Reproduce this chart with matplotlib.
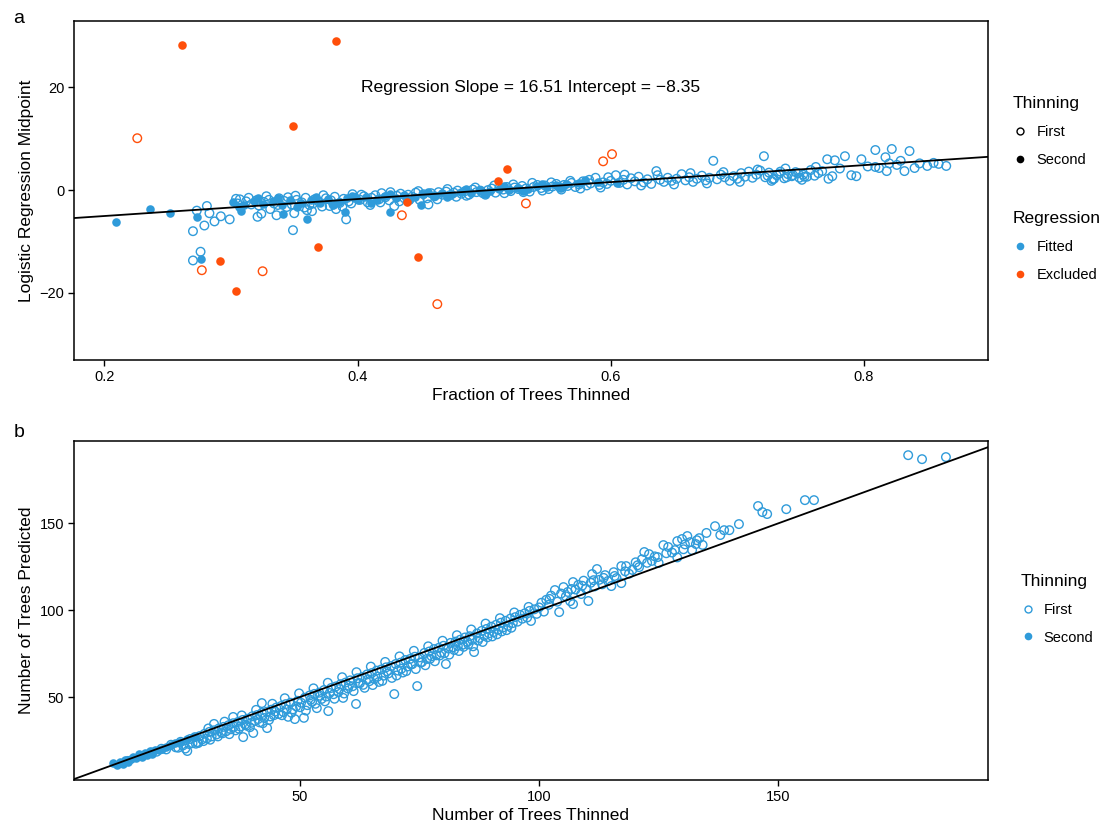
import matplotlib
matplotlib.use("Agg")
import matplotlib.pyplot as plt
from matplotlib.lines import Line2D

plt.rcParams['font.family'] = ['Liberation Sans', 'DejaVu Sans']

BLUE = '#2F9BDA'
ORANGE = '#FF4F0A'

# ---- panel a: fraction thinned vs logistic midpoint ----
slope = 16.51
intercept = -8.35

# fitted, first thinning (open blue)
fit_first_x = [0.270, 0.270, 0.276, 0.279, 0.287, 0.292, 0.299, 0.281, 0.283, 0.273, 0.304, 0.307, 0.312, 0.316, 0.320,
               0.321, 0.324, 0.331, 0.336, 0.350, 0.360, 0.364, 0.349, 0.391, 0.378, 0.383, 0.326, 0.330, 0.334, 0.338,
               0.342, 0.345, 0.348, 0.352, 0.356, 0.359, 0.362, 0.366, 0.369, 0.372, 0.375, 0.379, 0.382, 0.386, 0.389,
               0.393, 0.396, 0.398,
               0.402, 0.405, 0.408, 0.411, 0.414, 0.417, 0.419, 0.422, 0.425, 0.429, 0.431, 0.434, 0.437, 0.440, 0.443,
               0.446, 0.449, 0.452, 0.456, 0.458, 0.461, 0.464, 0.467, 0.470, 0.473, 0.476, 0.479, 0.482, 0.485, 0.488,
               0.491, 0.494, 0.497, 0.499,
               0.503, 0.506, 0.509, 0.512, 0.515, 0.518, 0.521, 0.524, 0.527, 0.530, 0.533, 0.536, 0.539, 0.542, 0.545,
               0.548, 0.551, 0.554, 0.557, 0.560, 0.563, 0.566, 0.569, 0.572, 0.575, 0.578, 0.581, 0.584, 0.588, 0.591,
               0.594, 0.597, 0.600,
               0.604, 0.607, 0.610, 0.613, 0.616, 0.619, 0.622, 0.626, 0.629, 0.632, 0.636, 0.639, 0.642, 0.645, 0.648,
               0.652, 0.656, 0.659, 0.662, 0.665, 0.668, 0.672, 0.675, 0.678, 0.681, 0.684, 0.687, 0.690, 0.694, 0.697,
               0.700, 0.703, 0.706, 0.709, 0.712, 0.715, 0.718, 0.721, 0.722, 0.725, 0.728, 0.731, 0.734, 0.737, 0.740,
               0.743, 0.746, 0.749, 0.752, 0.755, 0.758, 0.761, 0.764, 0.767, 0.771, 0.775, 0.777, 0.781, 0.785, 0.790,
               0.794, 0.798, 0.724, 0.729, 0.733, 0.739, 0.744, 0.748, 0.753,
               0.803, 0.809, 0.809, 0.812, 0.817, 0.818, 0.820, 0.822, 0.826, 0.829, 0.832, 0.836, 0.840, 0.844, 0.850,
               0.855, 0.859, 0.865,
               0.305, 0.314, 0.322, 0.328, 0.337, 0.344, 0.351, 0.358, 0.365, 0.373, 0.381, 0.388, 0.395, 0.403, 0.410,
               0.418, 0.426, 0.433, 0.441, 0.448, 0.455, 0.463, 0.471, 0.478, 0.486, 0.493, 0.501, 0.508, 0.516, 0.523,
               0.531, 0.538, 0.546, 0.553, 0.561, 0.568, 0.576, 0.583, 0.592, 0.598,
               0.611, 0.624, 0.637, 0.650, 0.663, 0.676, 0.689, 0.702, 0.716, 0.727, 0.738, 0.751, 0.762, 0.772]
fit_first_y = [-8.0, -13.7, -12.0, -6.9, -6.1, -5.1, -5.7, -3.1, -4.5, -4.0, -1.7, -1.8, -2.2, -2.8, -2.0,
               -5.2, -4.6, -3.7, -4.9, -4.5, -3.9, -4.1, -7.8, -5.7, -3.1, -3.7, -2.3, -1.9, -2.6, -1.6,
               -2.1, -1.4, -2.8, -1.9, -2.4, -1.5, -2.9, -1.8, -2.2, -3.2, -1.6, -2.0, -1.3, -2.5, -1.7,
               -2.2, -0.8, -1.5,
               -1.9, -1.2, -2.4, -1.5, -1.0, -1.8, -0.6, -1.4, -2.0, -3.1, -1.1, -0.7, -1.6, -0.9, -1.3,
               -0.5, -1.9, -0.8, -2.8, -0.6, -1.2, -0.4, -0.9, -0.3, -1.0, -0.5, -0.1, -0.7, -0.2, -0.9,
               0.1, -0.4, -0.1, -0.6,
               0.0, 0.3, -0.5, 0.4, 0.1, 0.6, -0.2, 0.5, 0.2, 0.8, 0.3, -0.3, 0.6, 1.0, 0.4,
               0.9, 0.2, 0.7, 1.2, 0.5, 1.0, 0.8, 1.4, 0.6, 1.1, 1.7, 0.9, 1.3, 2.4, 1.0,
               1.5, 1.2, 1.8,
               2.9, 1.4, 2.0, 1.1, 2.3, 1.7, 2.6, 1.5, 2.1, 1.2, 3.7, 2.0, 1.6, 2.4, 1.8,
               2.2, 3.1, 1.9, 2.5, 1.6, 2.2, 2.8, 1.9, 2.4, 5.7, 2.1, 3.0, 2.5, 1.8, 2.7,
               2.2, 3.3, 2.6, 3.6, 2.4, 3.0, 3.8, 6.6, 2.5, 3.4, 2.1, 2.9, 3.6, 2.3, 3.1,
               2.7, 3.5, 2.4, 3.0, 2.6, 3.9, 2.8, 3.3, 3.7, 6.0, 2.7, 5.8, 4.2, 6.6, 2.9,
               2.7, 6.0, 2.8, 2.2, 3.2, 2.5, 2.9, 3.3, 2.6,
               4.6, 7.8, 4.5, 4.3, 6.4, 3.7, 5.2, 8.0, 4.9, 5.7, 3.7, 7.6, 4.3, 5.2, 4.7,
               5.3, 5.1, 4.7,
               -2.6, -1.5, -3.0, -1.2, -2.9, -3.3, -1.1, -3.4, -2.6, -1.0, -2.8, -3.2, -2.6, -0.9, -2.9,
               -2.4, -0.4, -2.2, -1.9, -0.2, -1.6, -1.8, 0.2, -1.3, -1.1, 0.5, -0.9, 0.9, -0.6, 1.1,
               -0.4, 1.4, -0.1, 1.5, 0.1, 1.8, 0.3, 2.0, 0.5, 2.5,
               3.0, 0.9, 2.9, 1.1, 3.3, 1.3, 3.5, 1.6, 4.0, 1.8, 4.2, 2.0, 4.5, 2.2]

# fitted, second thinning (filled blue)
fit_second_x = [0.209, 0.236, 0.252, 0.273, 0.276, 0.308, 0.341, 0.360, 0.390, 0.426, 0.450,
                0.302, 0.310, 0.318, 0.325, 0.333, 0.340, 0.347, 0.355, 0.363, 0.370, 0.377, 0.385, 0.392,
                0.400, 0.407, 0.415, 0.422, 0.430, 0.437, 0.445, 0.452, 0.460, 0.467, 0.475, 0.482, 0.490,
                0.497, 0.505, 0.512, 0.520, 0.527, 0.535, 0.542, 0.550, 0.557, 0.565, 0.575, 0.590,
                0.306, 0.321, 0.337, 0.352, 0.367, 0.381, 0.396, 0.411, 0.426, 0.441, 0.456, 0.471, 0.486,
                0.501, 0.516, 0.531, 0.546, 0.561, 0.580, 0.605]
fit_second_y = [-6.3, -3.7, -4.5, -5.2, -13.5, -4.1, -4.7, -5.6, -4.3, -4.2, -3.0,
                -2.4, -2.9, -2.1, -2.7, -2.2, -3.0, -2.0, -2.6, -1.9, -2.5, -1.8, -2.3, -1.6,
                -2.0, -1.4, -1.9, -1.2, -1.6, -1.0, -1.4, -0.8, -1.1, -0.6, -0.8, -0.3, -0.5,
                0.0, -0.2, 0.3, 0.1, 0.5, 0.3, 0.7, 0.6, 0.9, 1.1, 1.3, 1.6,
                -3.3, -1.6, -1.5, -3.2, -1.3, -2.9, -1.1, -2.6, -0.8, -2.0, -0.3, -1.4, 0.2,
                -0.7, 0.8, -0.1, 1.2, 0.4, 1.9, 1.4]

# excluded from regression
excl_first_x = [0.226, 0.277, 0.325, 0.435, 0.463, 0.533, 0.594, 0.601]
excl_first_y = [10.1, -15.6, -15.8, -4.9, -22.2, -2.6, 5.6, 7.0]
excl_second_x = [0.261, 0.383, 0.349, 0.511, 0.518, 0.439, 0.369, 0.448, 0.291, 0.304]
excl_second_y = [28.3, 29.1, 12.5, 1.7, 4.1, -2.3, -11.1, -13.1, -13.9, -19.7]

# ---- panel b: thinned vs predicted ----
b_second_x = [10.9, 11.6, 12.3, 12.9, 13.4, 14.0, 14.6, 15.1, 15.7, 16.3, 16.9, 17.5, 18.0, 18.6, 19.1,
              19.7, 20.4, 21.2, 22.0, 22.9, 23.8, 24.9, 26.3, 27.8]
b_second_y = [11.8, 10.9, 12.6, 11.7, 13.9, 12.8, 14.3, 15.6, 14.8, 16.9, 15.4, 17.8, 16.6, 18.9, 17.3,
              19.2, 19.6, 20.3, 21.4, 22.1, 23.4, 24.0, 25.9, 27.1]

b_first_x = [14.0, 17.0, 19.0,
             20, 21, 22, 23, 24, 25, 25.5, 26, 26.4, 27, 27.5, 28, 28.5, 28.7, 29, 29.5, 30, 30.5, 31, 31.5, 32,
             32.5, 33, 33.5, 34, 34.5, 35, 35.5, 36, 36.5, 37, 37.5, 38, 38.1, 38.5, 39, 39.5, 40, 40.2, 40.5,
             41, 41.5, 42, 42.5, 43, 43.1, 43.5, 44, 44.5, 45, 32, 36, 42,
             45.5, 46, 46.5, 47, 47.5, 48, 48.5, 48.9, 49.5, 50, 50.8, 51, 51.5, 52, 52.5, 53, 53.5, 54, 54.5,
             55, 55.5, 55.9, 56.5, 57, 57.5, 58, 58.5, 59, 59.5, 60,
             60.5, 61, 61.7, 62, 62.5, 63, 63.5, 64, 64.5, 65, 65.5, 66, 66.5, 67, 67.5, 68, 68.5, 69, 69.7, 70,
             70.5, 71, 71.5, 72, 72.5, 73, 73.5, 74, 74.5, 75, 75.5, 76, 76.5, 77, 77.5, 78, 78.5, 79, 79.5, 80,
             80.5, 81, 81.5, 82, 82.5, 83, 83.5, 84, 84.5, 85, 85.5, 86, 86.4, 87, 87.5, 88, 88.5, 89, 89.5, 90,
             90.5, 91, 91.5, 92, 92.5, 93, 93.5, 94, 94.5, 95, 95.5, 96, 96.5, 97, 97.5, 98, 98.3, 99, 99.5, 100,
             100.5, 101, 101.5, 102, 102.5, 103.3, 103.8, 104.2, 105.1, 105.6, 106, 106.5, 107.1, 107.1, 107.6,
             108.2, 108.8, 109.3, 109.8, 110.3, 110.8, 111.1, 111.6, 112.1, 112.6, 113.2, 113.8, 114.4, 115.1,
             115.6, 116.2, 117.2, 117.2, 118.2, 118.8, 119.5, 120.2, 120.9, 121.5, 122, 123, 123.6, 124.2, 125,
             126, 127, 127.8, 128.9, 128.9, 129.9, 130.5, 131, 132, 132.8, 133.5, 135,
             136.8, 137.9, 138.7, 139.8, 141.8, 145.8, 146.7, 147.7, 151.7, 155.6, 157.5,
             177.2, 180.1, 185.1,
             24.5, 26.8, 28.2, 29.8, 31.2, 32.8, 33.8, 35.2, 36.2, 37.2, 38.8, 39.8, 41.2, 42.2, 43.8, 44.8,
             30.8, 34.2, 37.8, 40.8, 44.2,
             46.2, 47.2, 48.2, 49.2, 50.2, 51.2, 52.2, 53.2, 54.2, 55.2, 56.2, 57.2, 58.2, 59.2, 60.2, 61.2,
             62.2, 63.2, 64.2, 65.2, 66.2, 67.2, 68.2, 69.2, 46.8, 49.8, 52.8, 55.8, 58.8, 61.8, 64.8, 67.8,
             70.2, 71.2, 72.2, 73.2, 74.2, 75.2, 76.2, 77.2, 78.2, 79.2, 80.2, 81.2, 82.2, 83.2, 84.2, 85.2,
             86.2, 87.2, 88.2, 89.2, 90.2, 91.2, 92.2, 93.2, 94.2, 70.8, 73.8, 76.8, 79.8, 82.8, 85.8, 88.8,
             91.8, 94.8, 97.8,
             102.2, 104.6, 106.8, 109.0, 111.4, 113.5, 115.8, 118.0, 120.6, 122.6, 124.8, 126.6, 128.4, 130.2,
             131.6, 133.0, 134.2]
b_first_y = [13.2, 16.1, 18.0,
             18.5, 20.2, 19.8, 22.5, 21.0, 24.2, 22.1, 20.3, 18.9, 25.8, 23.4, 26.9, 24.0, 23.5, 27.5, 25.6, 28.8,
             26.1, 29.9, 27.3, 30.8,
             28.4, 31.9, 29.6, 32.8, 30.2, 33.7, 31.4, 34.9, 30.8, 35.6, 33.0, 36.8, 26.9, 34.1, 37.5, 32.6, 38.9,
             29.3, 36.2, 39.6, 35.4, 40.8, 37.9, 41.5, 32.1, 36.8, 42.7, 39.5, 43.9, 34.5, 38.5, 46.5,
             40.2, 44.8, 41.3, 45.9, 38.6, 46.7, 42.9, 37.3, 47.8, 44.1, 38.0, 49.6, 45.3, 50.9, 47.2, 51.8, 43.6,
             52.5, 48.9, 54.0, 50.3, 41.9, 55.2, 51.6, 56.1, 52.8, 57.4, 49.5, 58.3, 54.9,
             59.6, 56.2, 46.0, 60.8, 57.9, 61.5, 55.3, 63.0, 59.1, 63.8, 60.4, 65.2, 58.7, 65.9, 62.3, 67.1, 63.6,
             67.8, 51.7, 69.0, 65.2, 69.8, 64.1, 71.3, 67.6, 71.9, 69.0, 73.2, 56.3, 72.8, 70.1, 75.4, 71.9, 76.2,
             73.5, 77.6, 74.0, 78.3, 75.6, 79.5,
             69.0, 77.9, 81.2, 78.6, 81.9, 79.4, 83.0, 80.1, 84.3, 81.7, 85.0, 82.9, 75.9, 86.6, 84.0, 88.1, 85.3,
             89.2, 86.7, 90.5, 87.4, 91.6, 88.9, 92.8, 90.1, 93.9, 91.0, 95.2, 92.6, 96.0, 93.4, 97.3, 95.1, 98.2,
             95.8, 99.6, 93.8, 100.5, 97.9, 101.6,
             104.3, 99.2, 106.0, 103.1, 108.4, 111.6, 104.9, 98.9, 113.3, 108.0, 110.5, 105.2, 116.2, 103.5, 111.9,
             114.6, 109.3, 117.0, 112.4, 105.3, 115.8, 120.8, 113.7, 123.7, 117.5, 114.9, 120.2, 116.8, 113.9,
             121.9, 118.5, 115.6, 125.4, 125.4, 121.0, 123.2, 127.6, 124.8, 129.3, 133.5, 132.3, 128.4, 131.0, 127.2,
             137.5, 136.4, 133.2, 139.8, 130.4, 141.0, 137.9, 142.7, 134.6, 138.1, 141.5, 144.5,
             148.4, 143.3, 146.1, 146.1, 149.6, 160.0, 156.5, 155.4, 158.2, 163.4, 163.4,
             189.3, 187.0, 188.2,
             20.8, 22.9, 23.1, 24.6, 25.4, 27.3, 29.1, 28.6, 32.9, 31.7, 33.5, 35.1, 37.3, 34.9, 38.8, 41.6,
             31.9, 35.8, 39.4, 42.6, 46.1,
             39.5, 42.8, 40.9, 44.6, 46.7, 42.2, 48.4, 46.1, 50.7, 47.5, 52.3, 49.0, 54.6, 52.0, 56.5, 53.4,
             58.1, 57.0, 60.2, 56.9, 61.7, 59.3, 64.8, 61.0, 49.3, 52.1, 55.0, 58.2, 61.4, 64.3, 67.5, 70.2,
             62.4, 66.3, 64.9, 68.7, 66.1, 69.8, 68.3, 72.0, 70.6, 73.9, 75.2, 74.4, 77.1, 76.5, 78.9, 80.3,
             79.2, 82.5, 81.7, 84.4, 84.9, 86.1, 87.8, 88.5, 89.9, 73.4, 76.6, 79.2, 82.4, 85.6, 88.9, 92.3,
             95.4, 98.7, 101.9,
             106.5, 109.6, 112.2, 114.1, 117.3, 118.6, 119.7, 122.4, 125.9, 127.3, 130.6, 132.8, 134.6, 135.1,
             139.2, 140.3, 137.6]

fig = plt.figure(figsize=(11.14, 8.24), dpi=100)
ax1 = fig.add_axes([0.0664, 0.563, 0.8205, 0.412])
ax2 = fig.add_axes([0.0664, 0.0534, 0.8205, 0.4117])

ms = 38
lw = 1.0
ax1.scatter(fit_first_x, fit_first_y, s=ms, facecolors='none', edgecolors=BLUE, linewidths=lw, zorder=2)
ax1.scatter(fit_second_x, fit_second_y, s=ms, color=BLUE, linewidths=0, zorder=2)
ax1.scatter(excl_first_x, excl_first_y, s=ms, facecolors='none', edgecolors=ORANGE, linewidths=lw, zorder=2)
ax1.scatter(excl_second_x, excl_second_y, s=ms, color=ORANGE, linewidths=0, zorder=2)
ax1.axline((0, intercept), slope=slope, color='black', lw=1.3, zorder=3)
ax1.set_xlim(0.176, 0.898)
ax1.set_ylim(-33.1, 33.0)
ax1.set_xticks([0.2, 0.4, 0.6, 0.8])
ax1.set_yticks([-20, 0, 20])
ax1.set_xlabel('Fraction of Trees Thinned', fontsize=12.5, labelpad=3)
ax1.set_ylabel('Logistic Regression Midpoint', fontsize=12.5, labelpad=4)
ax1.text(0.537, 19.9, 'Regression Slope = %.2f Intercept = \u2212%.2f' % (slope, -intercept),
         ha='center', va='center', fontsize=12.6)

ax2.scatter(b_first_x, b_first_y, s=ms, facecolors='none', edgecolors=BLUE, linewidths=lw, zorder=2)
ax2.scatter(b_second_x, b_second_y, s=ms, color=BLUE, linewidths=0, zorder=2)
ax2.axline((0, 0), slope=1, color='black', lw=1.3, zorder=3)
ax2.set_xlim(2.7, 193.9)
ax2.set_ylim(2.2, 197.6)
ax2.set_xticks([50, 100, 150])
ax2.set_yticks([50, 100, 150])
ax2.set_xlabel('Number of Trees Thinned', fontsize=12.5, labelpad=3)
ax2.set_ylabel('Number of Trees Predicted', fontsize=12.5, labelpad=4)

for ax in (ax1, ax2):
    for sp in ax.spines.values():
        sp.set_linewidth(1.1)
        sp.set_color('black')
    ax.tick_params(direction='out', length=4, width=1, labelsize=10.5, colors='black', pad=3)

fig.text(0.012, 0.978, 'a', fontsize=14, va='center')
fig.text(0.012, 0.475, 'b', fontsize=14, va='center')

leg_kw = dict(frameon=False, loc='upper left', fontsize=10.5, title_fontsize=12.5,
              handletextpad=0.6, labelspacing=0.95, borderaxespad=0, alignment='left',
              handlelength=1.0)
h_thin = [Line2D([], [], ls='none', marker='o', ms=5, mfc='none', mec='black', mew=1.0),
          Line2D([], [], ls='none', marker='o', ms=5.5, mfc='black', mec='black', mew=0)]
h_reg = [Line2D([], [], ls='none', marker='o', ms=5.5, mfc=BLUE, mec=BLUE, mew=0),
         Line2D([], [], ls='none', marker='o', ms=5.5, mfc=ORANGE, mec=ORANGE, mew=0)]
leg1 = ax1.legend(h_thin, ['First', 'Second'], title='Thinning',
                  bbox_to_anchor=(1.021, 0.795), **leg_kw)
ax1.add_artist(leg1)
ax1.legend(h_reg, ['Fitted', 'Excluded'], title='Regression',
           bbox_to_anchor=(1.021, 0.455), **leg_kw)

h_b = [Line2D([], [], ls='none', marker='o', ms=5, mfc='none', mec=BLUE, mew=1.0),
       Line2D([], [], ls='none', marker='o', ms=5.5, mfc=BLUE, mec=BLUE, mew=0)]
ax2.legend(h_b, ['First', 'Second'], title='Thinning',
           bbox_to_anchor=(1.029, 0.625), **leg_kw)

fig.savefig('out.png', dpi=100)
